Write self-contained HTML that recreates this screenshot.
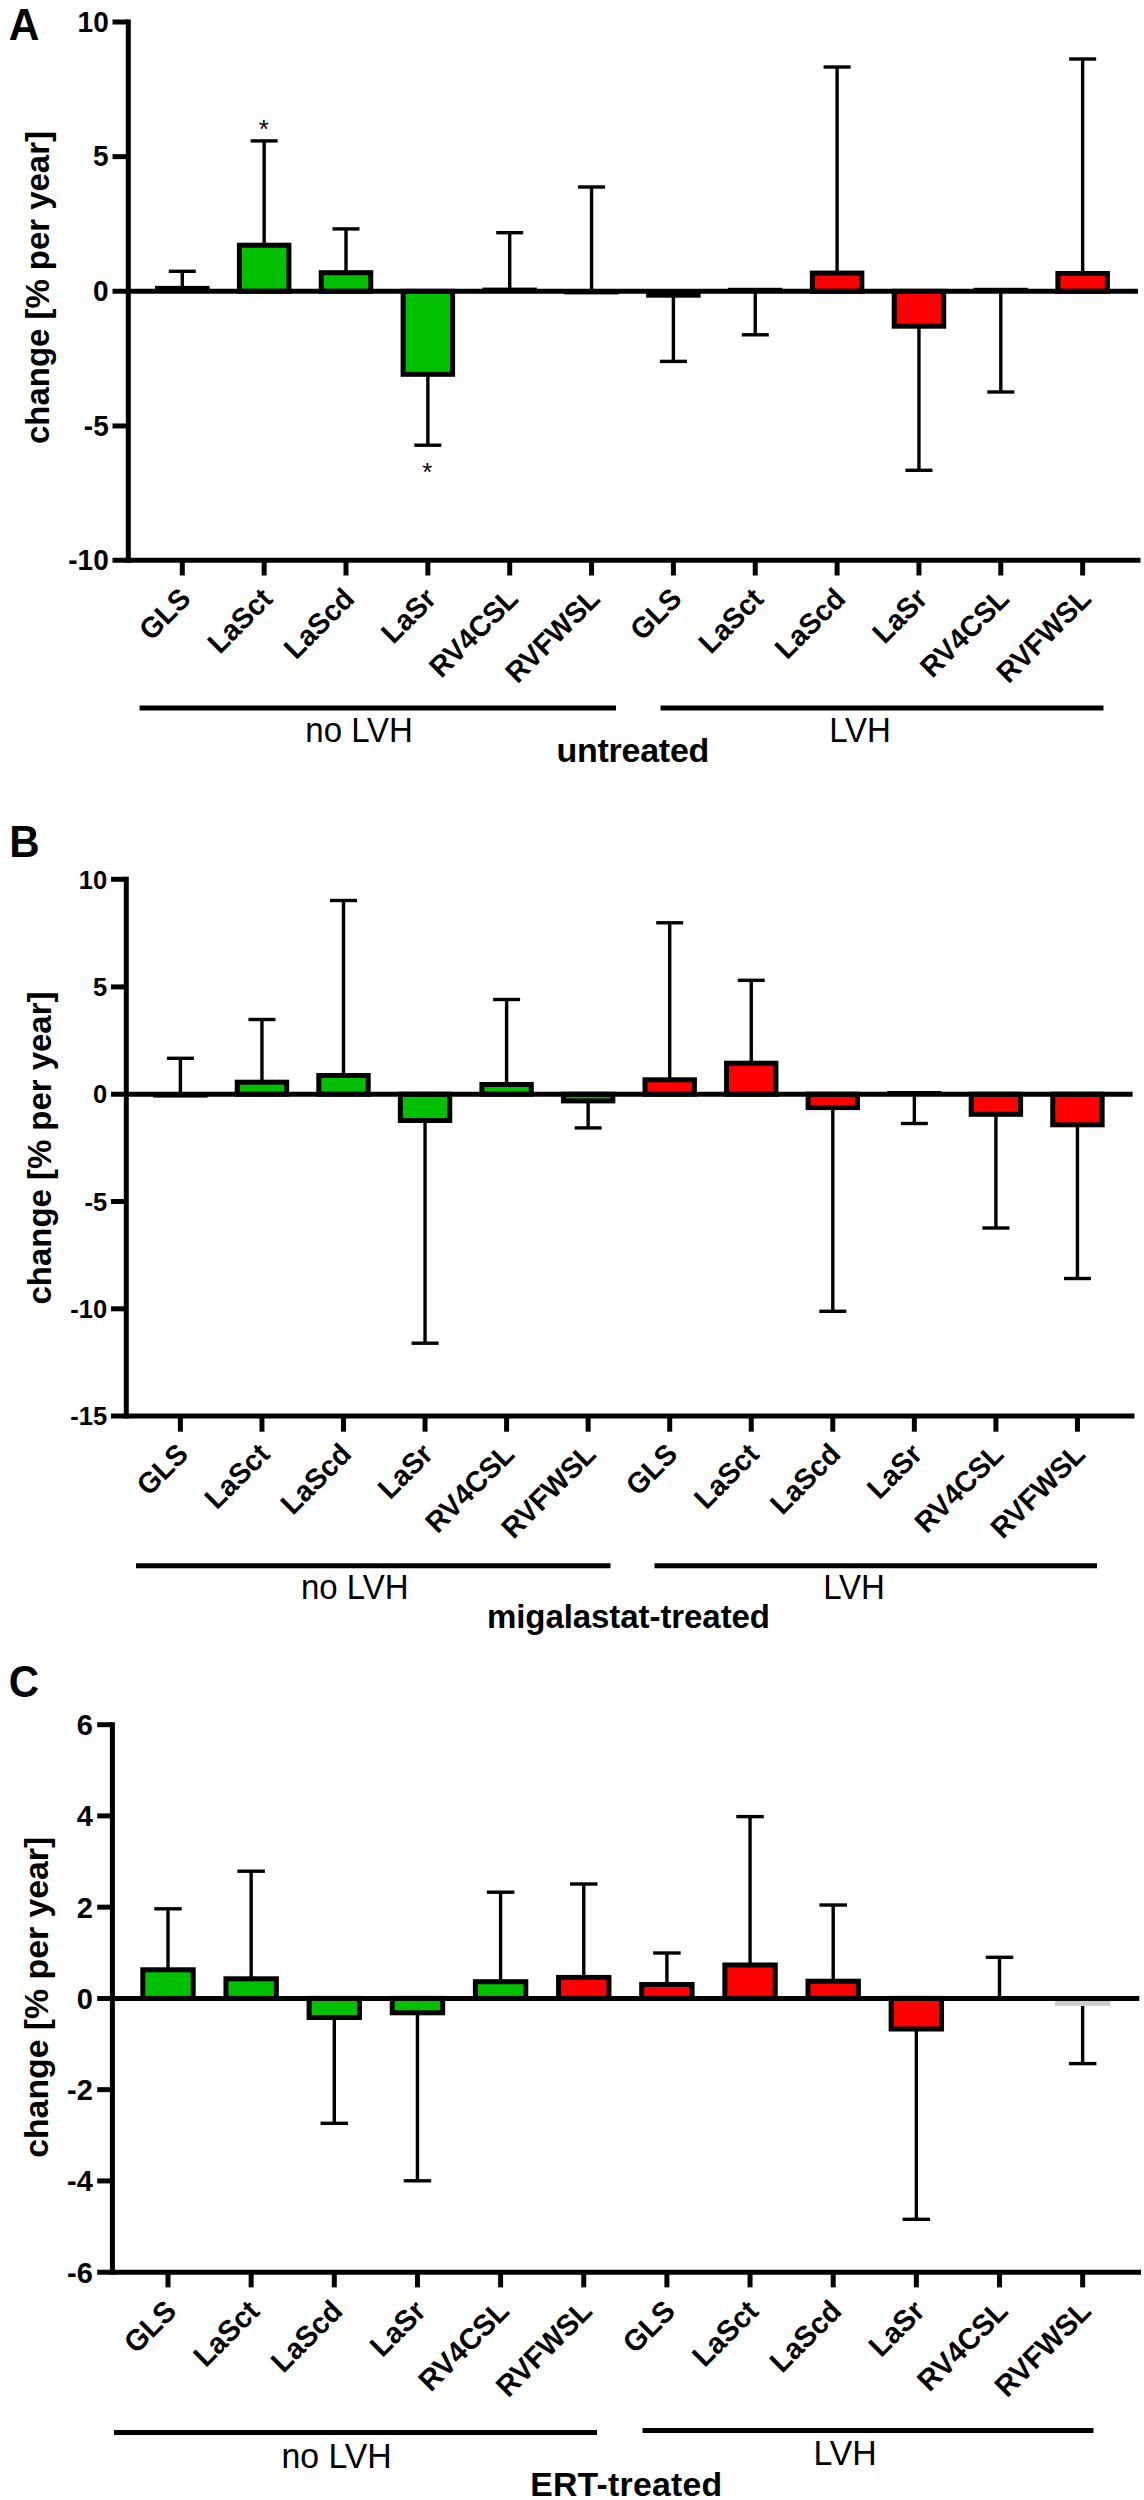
<!DOCTYPE html>
<html lang="en"><head><meta charset="utf-8"><title>Figure</title>
<style>html,body{margin:0;padding:0;background:#fff;}svg{display:block;}text{font-family:"Liberation Sans", sans-serif;fill:#000;}</style>
</head><body>
<svg width="1144" height="2500" viewBox="0 0 1144 2500">
<rect width="1144" height="2500" fill="#fff"/>
<g>
<line x1="128.3" y1="19.5" x2="128.3" y2="562.8" stroke="#000" stroke-width="5"/>
<line x1="112.5" y1="22" x2="128.3" y2="22" stroke="#000" stroke-width="5"/>
<text transform="translate(108.7 31.7) scale(1 1.04)" font-size="28" font-weight="bold" text-anchor="end">10</text>
<line x1="112.5" y1="156.65" x2="128.3" y2="156.65" stroke="#000" stroke-width="5"/>
<text transform="translate(108.7 166.35) scale(1 1.04)" font-size="28" font-weight="bold" text-anchor="end">5</text>
<text transform="translate(108.7 301) scale(1 1.04)" font-size="28" font-weight="bold" text-anchor="end">0</text>
<line x1="112.5" y1="425.95" x2="128.3" y2="425.95" stroke="#000" stroke-width="5"/>
<text transform="translate(108.7 435.65) scale(1 1.04)" font-size="28" font-weight="bold" text-anchor="end">-5</text>
<text transform="translate(108.7 570) scale(1 1.04)" font-size="28" font-weight="bold" text-anchor="end">-10</text>
<line x1="182.3" y1="291.3" x2="182.3" y2="271.3" stroke="#000" stroke-width="3.4"/>
<line x1="168.8" y1="271.3" x2="195.8" y2="271.3" stroke="#000" stroke-width="3.4"/>
<rect x="155.05" y="285.9" width="54.5" height="5.4" fill="#000"/>
<line x1="264.15" y1="245.2" x2="264.15" y2="140.9" stroke="#000" stroke-width="3.4"/>
<line x1="250.65" y1="140.9" x2="277.65" y2="140.9" stroke="#000" stroke-width="3.4"/>
<rect x="239.4" y="245.2" width="49.5" height="46.1" fill="#00C000" stroke="#000" stroke-width="5"/>
<line x1="346" y1="272.7" x2="346" y2="228.9" stroke="#000" stroke-width="3.4"/>
<line x1="332.5" y1="228.9" x2="359.5" y2="228.9" stroke="#000" stroke-width="3.4"/>
<rect x="321.25" y="272.7" width="49.5" height="18.6" fill="#00C000" stroke="#000" stroke-width="5"/>
<line x1="427.85" y1="374.3" x2="427.85" y2="445.2" stroke="#000" stroke-width="3.4"/>
<line x1="414.35" y1="445.2" x2="441.35" y2="445.2" stroke="#000" stroke-width="3.4"/>
<rect x="403.1" y="291.3" width="49.5" height="83" fill="#00C000" stroke="#000" stroke-width="5"/>
<line x1="509.7" y1="291.3" x2="509.7" y2="232.7" stroke="#000" stroke-width="3.4"/>
<line x1="496.2" y1="232.7" x2="523.2" y2="232.7" stroke="#000" stroke-width="3.4"/>
<rect x="482.45" y="287.6" width="54.5" height="3.7" fill="#000"/>
<line x1="591.55" y1="291.3" x2="591.55" y2="187" stroke="#000" stroke-width="3.4"/>
<line x1="578.05" y1="187" x2="605.05" y2="187" stroke="#000" stroke-width="3.4"/>
<rect x="564.3" y="291.3" width="54.5" height="3.1" fill="#000"/>
<line x1="673.4" y1="291.3" x2="673.4" y2="361.4" stroke="#000" stroke-width="3.4"/>
<line x1="659.9" y1="361.4" x2="686.9" y2="361.4" stroke="#000" stroke-width="3.4"/>
<rect x="646.15" y="291.3" width="54.5" height="6.4" fill="#000"/>
<line x1="755.25" y1="291.3" x2="755.25" y2="334.8" stroke="#000" stroke-width="3.4"/>
<line x1="741.75" y1="334.8" x2="768.75" y2="334.8" stroke="#000" stroke-width="3.4"/>
<rect x="728" y="287.8" width="54.5" height="3.5" fill="#000"/>
<line x1="837.1" y1="273.1" x2="837.1" y2="67" stroke="#000" stroke-width="3.4"/>
<line x1="823.6" y1="67" x2="850.6" y2="67" stroke="#000" stroke-width="3.4"/>
<rect x="812.35" y="273.1" width="49.5" height="18.2" fill="#FF0000" stroke="#000" stroke-width="5"/>
<line x1="918.95" y1="326.2" x2="918.95" y2="470.3" stroke="#000" stroke-width="3.4"/>
<line x1="905.45" y1="470.3" x2="932.45" y2="470.3" stroke="#000" stroke-width="3.4"/>
<rect x="894.2" y="291.3" width="49.5" height="34.9" fill="#FF0000" stroke="#000" stroke-width="5"/>
<line x1="1000.8" y1="291.3" x2="1000.8" y2="392" stroke="#000" stroke-width="3.4"/>
<line x1="987.3" y1="392" x2="1014.3" y2="392" stroke="#000" stroke-width="3.4"/>
<rect x="973.55" y="287.8" width="54.5" height="3.5" fill="#000"/>
<line x1="1082.65" y1="273.5" x2="1082.65" y2="59" stroke="#000" stroke-width="3.4"/>
<line x1="1069.15" y1="59" x2="1096.15" y2="59" stroke="#000" stroke-width="3.4"/>
<rect x="1057.9" y="273.5" width="49.5" height="17.8" fill="#FF0000" stroke="#000" stroke-width="5"/>
<line x1="112.5" y1="291.3" x2="1138" y2="291.3" stroke="#000" stroke-width="5"/>
<line x1="112.5" y1="560.3" x2="1140.5" y2="560.3" stroke="#000" stroke-width="5"/>
<line x1="182.3" y1="560.3" x2="182.3" y2="575.5" stroke="#000" stroke-width="5"/>
<text transform="translate(192.3 600.5) rotate(-45) scale(1 1.03)" font-size="28.3" font-weight="bold" text-anchor="end">GLS</text>
<line x1="264.15" y1="560.3" x2="264.15" y2="575.5" stroke="#000" stroke-width="5"/>
<text transform="translate(274.15 600.5) rotate(-45) scale(1 1.03)" font-size="28.3" font-weight="bold" text-anchor="end">LaSct</text>
<line x1="346" y1="560.3" x2="346" y2="575.5" stroke="#000" stroke-width="5"/>
<text transform="translate(356 600.5) rotate(-45) scale(1 1.03)" font-size="28.3" font-weight="bold" text-anchor="end">LaScd</text>
<line x1="427.85" y1="560.3" x2="427.85" y2="575.5" stroke="#000" stroke-width="5"/>
<text transform="translate(437.85 600.5) rotate(-45) scale(1 1.03)" font-size="28.3" font-weight="bold" text-anchor="end">LaSr</text>
<line x1="509.7" y1="560.3" x2="509.7" y2="575.5" stroke="#000" stroke-width="5"/>
<text transform="translate(519.7 600.5) rotate(-45) scale(1 1.03)" font-size="28.3" font-weight="bold" text-anchor="end">RV4CSL</text>
<line x1="591.55" y1="560.3" x2="591.55" y2="575.5" stroke="#000" stroke-width="5"/>
<text transform="translate(601.55 600.5) rotate(-45) scale(1 1.03)" font-size="28.3" font-weight="bold" text-anchor="end">RVFWSL</text>
<line x1="673.4" y1="560.3" x2="673.4" y2="575.5" stroke="#000" stroke-width="5"/>
<text transform="translate(683.4 600.5) rotate(-45) scale(1 1.03)" font-size="28.3" font-weight="bold" text-anchor="end">GLS</text>
<line x1="755.25" y1="560.3" x2="755.25" y2="575.5" stroke="#000" stroke-width="5"/>
<text transform="translate(765.25 600.5) rotate(-45) scale(1 1.03)" font-size="28.3" font-weight="bold" text-anchor="end">LaSct</text>
<line x1="837.1" y1="560.3" x2="837.1" y2="575.5" stroke="#000" stroke-width="5"/>
<text transform="translate(847.1 600.5) rotate(-45) scale(1 1.03)" font-size="28.3" font-weight="bold" text-anchor="end">LaScd</text>
<line x1="918.95" y1="560.3" x2="918.95" y2="575.5" stroke="#000" stroke-width="5"/>
<text transform="translate(928.95 600.5) rotate(-45) scale(1 1.03)" font-size="28.3" font-weight="bold" text-anchor="end">LaSr</text>
<line x1="1000.8" y1="560.3" x2="1000.8" y2="575.5" stroke="#000" stroke-width="5"/>
<text transform="translate(1010.8 600.5) rotate(-45) scale(1 1.03)" font-size="28.3" font-weight="bold" text-anchor="end">RV4CSL</text>
<line x1="1082.65" y1="560.3" x2="1082.65" y2="575.5" stroke="#000" stroke-width="5"/>
<text transform="translate(1092.65 600.5) rotate(-45) scale(1 1.03)" font-size="28.3" font-weight="bold" text-anchor="end">RVFWSL</text>
<line x1="139.6" y1="708" x2="616" y2="708" stroke="#000" stroke-width="5"/>
<line x1="660.5" y1="708" x2="1103.5" y2="708" stroke="#000" stroke-width="5"/>
<text transform="translate(359.1 742) scale(1 1.04)" font-size="33" text-anchor="middle">no LVH</text>
<text transform="translate(860 742) scale(1 1.04)" font-size="33" text-anchor="middle">LVH</text>
<text transform="translate(556.4 762) scale(1 1.0)" font-size="34" font-weight="bold" textLength="153" lengthAdjust="spacing">untreated</text>
<text transform="translate(48.9 287.5) rotate(-90) scale(1 1.0)" font-size="33" font-weight="bold" text-anchor="middle" textLength="313" lengthAdjust="spacing">change [% per year]</text>
<text transform="translate(8.8 40.3) scale(1 1.04)" font-size="42.5" font-weight="bold">A</text>
<text x="263.8" y="137.9" font-size="26" text-anchor="middle">*</text>
<text x="427.2" y="481.3" font-size="26" text-anchor="middle">*</text>
</g>
<g>
<line x1="126.3" y1="876.8" x2="126.3" y2="1418.6" stroke="#000" stroke-width="5"/>
<line x1="111" y1="879.3" x2="126.3" y2="879.3" stroke="#000" stroke-width="5"/>
<text transform="translate(107.2 888.5) scale(1 1.04)" font-size="25.5" font-weight="bold" text-anchor="end">10</text>
<line x1="111" y1="986.9" x2="126.3" y2="986.9" stroke="#000" stroke-width="5"/>
<text transform="translate(107.2 996.1) scale(1 1.04)" font-size="25.5" font-weight="bold" text-anchor="end">5</text>
<text transform="translate(107.2 1103.4) scale(1 1.04)" font-size="25.5" font-weight="bold" text-anchor="end">0</text>
<line x1="111" y1="1201.5" x2="126.3" y2="1201.5" stroke="#000" stroke-width="5"/>
<text transform="translate(107.2 1210.7) scale(1 1.04)" font-size="25.5" font-weight="bold" text-anchor="end">-5</text>
<line x1="111" y1="1308.8" x2="126.3" y2="1308.8" stroke="#000" stroke-width="5"/>
<text transform="translate(107.2 1318) scale(1 1.04)" font-size="25.5" font-weight="bold" text-anchor="end">-10</text>
<text transform="translate(107.2 1425.1) scale(1 1.04)" font-size="25.5" font-weight="bold" text-anchor="end">-15</text>
<line x1="180.4" y1="1094.2" x2="180.4" y2="1058.3" stroke="#000" stroke-width="3.4"/>
<line x1="166.9" y1="1058.3" x2="193.9" y2="1058.3" stroke="#000" stroke-width="3.4"/>
<rect x="153.2" y="1094.2" width="54.4" height="3.4" fill="#000"/>
<line x1="261.95" y1="1082.2" x2="261.95" y2="1019.5" stroke="#000" stroke-width="3.4"/>
<line x1="248.45" y1="1019.5" x2="275.45" y2="1019.5" stroke="#000" stroke-width="3.4"/>
<rect x="237.25" y="1082.2" width="49.4" height="12" fill="#00C000" stroke="#000" stroke-width="5"/>
<line x1="343.5" y1="1075.5" x2="343.5" y2="900.5" stroke="#000" stroke-width="3.4"/>
<line x1="330" y1="900.5" x2="357" y2="900.5" stroke="#000" stroke-width="3.4"/>
<rect x="318.8" y="1075.5" width="49.4" height="18.7" fill="#00C000" stroke="#000" stroke-width="5"/>
<line x1="425.05" y1="1120.5" x2="425.05" y2="1343.2" stroke="#000" stroke-width="3.4"/>
<line x1="411.55" y1="1343.2" x2="438.55" y2="1343.2" stroke="#000" stroke-width="3.4"/>
<rect x="400.35" y="1094.2" width="49.4" height="26.3" fill="#00C000" stroke="#000" stroke-width="5"/>
<line x1="506.6" y1="1084.5" x2="506.6" y2="999.5" stroke="#000" stroke-width="3.4"/>
<line x1="493.1" y1="999.5" x2="520.1" y2="999.5" stroke="#000" stroke-width="3.4"/>
<rect x="481.9" y="1084.5" width="49.4" height="9.7" fill="#00C000" stroke="#000" stroke-width="5"/>
<line x1="588.15" y1="1100.9" x2="588.15" y2="1127.9" stroke="#000" stroke-width="3.4"/>
<line x1="574.65" y1="1127.9" x2="601.65" y2="1127.9" stroke="#000" stroke-width="3.4"/>
<rect x="563.45" y="1094.2" width="49.4" height="6.7" fill="#00C000" stroke="#000" stroke-width="5"/>
<line x1="669.7" y1="1079.8" x2="669.7" y2="922.8" stroke="#000" stroke-width="3.4"/>
<line x1="656.2" y1="922.8" x2="683.2" y2="922.8" stroke="#000" stroke-width="3.4"/>
<rect x="645" y="1079.8" width="49.4" height="14.4" fill="#FF0000" stroke="#000" stroke-width="5"/>
<line x1="751.25" y1="1063.2" x2="751.25" y2="980.3" stroke="#000" stroke-width="3.4"/>
<line x1="737.75" y1="980.3" x2="764.75" y2="980.3" stroke="#000" stroke-width="3.4"/>
<rect x="726.55" y="1063.2" width="49.4" height="31" fill="#FF0000" stroke="#000" stroke-width="5"/>
<line x1="832.8" y1="1107.6" x2="832.8" y2="1311.3" stroke="#000" stroke-width="3.4"/>
<line x1="819.3" y1="1311.3" x2="846.3" y2="1311.3" stroke="#000" stroke-width="3.4"/>
<rect x="808.1" y="1094.2" width="49.4" height="13.4" fill="#FF0000" stroke="#000" stroke-width="5"/>
<line x1="914.35" y1="1094.2" x2="914.35" y2="1123.5" stroke="#000" stroke-width="3.4"/>
<line x1="900.85" y1="1123.5" x2="927.85" y2="1123.5" stroke="#000" stroke-width="3.4"/>
<rect x="887.15" y="1091" width="54.4" height="3.2" fill="#000"/>
<line x1="995.9" y1="1114.3" x2="995.9" y2="1228" stroke="#000" stroke-width="3.4"/>
<line x1="982.4" y1="1228" x2="1009.4" y2="1228" stroke="#000" stroke-width="3.4"/>
<rect x="971.2" y="1094.2" width="49.4" height="20.1" fill="#FF0000" stroke="#000" stroke-width="5"/>
<line x1="1077.45" y1="1124.8" x2="1077.45" y2="1278.5" stroke="#000" stroke-width="3.4"/>
<line x1="1063.95" y1="1278.5" x2="1090.95" y2="1278.5" stroke="#000" stroke-width="3.4"/>
<rect x="1052.75" y="1094.2" width="49.4" height="30.6" fill="#FF0000" stroke="#000" stroke-width="5"/>
<line x1="111" y1="1094.2" x2="1132.6" y2="1094.2" stroke="#000" stroke-width="5"/>
<line x1="111" y1="1416.1" x2="1134.5" y2="1416.1" stroke="#000" stroke-width="5"/>
<line x1="180.4" y1="1416.1" x2="180.4" y2="1431.7" stroke="#000" stroke-width="5"/>
<text transform="translate(189.8 1455.9) rotate(-45) scale(1 1.03)" font-size="28.3" font-weight="bold" text-anchor="end">GLS</text>
<line x1="261.95" y1="1416.1" x2="261.95" y2="1431.7" stroke="#000" stroke-width="5"/>
<text transform="translate(271.35 1455.9) rotate(-45) scale(1 1.03)" font-size="28.3" font-weight="bold" text-anchor="end">LaSct</text>
<line x1="343.5" y1="1416.1" x2="343.5" y2="1431.7" stroke="#000" stroke-width="5"/>
<text transform="translate(352.9 1455.9) rotate(-45) scale(1 1.03)" font-size="28.3" font-weight="bold" text-anchor="end">LaScd</text>
<line x1="425.05" y1="1416.1" x2="425.05" y2="1431.7" stroke="#000" stroke-width="5"/>
<text transform="translate(434.45 1455.9) rotate(-45) scale(1 1.03)" font-size="28.3" font-weight="bold" text-anchor="end">LaSr</text>
<line x1="506.6" y1="1416.1" x2="506.6" y2="1431.7" stroke="#000" stroke-width="5"/>
<text transform="translate(516 1455.9) rotate(-45) scale(1 1.03)" font-size="28.3" font-weight="bold" text-anchor="end">RV4CSL</text>
<line x1="588.15" y1="1416.1" x2="588.15" y2="1431.7" stroke="#000" stroke-width="5"/>
<text transform="translate(597.55 1455.9) rotate(-45) scale(1 1.03)" font-size="28.3" font-weight="bold" text-anchor="end">RVFWSL</text>
<line x1="669.7" y1="1416.1" x2="669.7" y2="1431.7" stroke="#000" stroke-width="5"/>
<text transform="translate(679.1 1455.9) rotate(-45) scale(1 1.03)" font-size="28.3" font-weight="bold" text-anchor="end">GLS</text>
<line x1="751.25" y1="1416.1" x2="751.25" y2="1431.7" stroke="#000" stroke-width="5"/>
<text transform="translate(760.65 1455.9) rotate(-45) scale(1 1.03)" font-size="28.3" font-weight="bold" text-anchor="end">LaSct</text>
<line x1="832.8" y1="1416.1" x2="832.8" y2="1431.7" stroke="#000" stroke-width="5"/>
<text transform="translate(842.2 1455.9) rotate(-45) scale(1 1.03)" font-size="28.3" font-weight="bold" text-anchor="end">LaScd</text>
<line x1="914.35" y1="1416.1" x2="914.35" y2="1431.7" stroke="#000" stroke-width="5"/>
<text transform="translate(923.75 1455.9) rotate(-45) scale(1 1.03)" font-size="28.3" font-weight="bold" text-anchor="end">LaSr</text>
<line x1="995.9" y1="1416.1" x2="995.9" y2="1431.7" stroke="#000" stroke-width="5"/>
<text transform="translate(1005.3 1455.9) rotate(-45) scale(1 1.03)" font-size="28.3" font-weight="bold" text-anchor="end">RV4CSL</text>
<line x1="1077.45" y1="1416.1" x2="1077.45" y2="1431.7" stroke="#000" stroke-width="5"/>
<text transform="translate(1086.85 1455.9) rotate(-45) scale(1 1.03)" font-size="28.3" font-weight="bold" text-anchor="end">RVFWSL</text>
<line x1="136" y1="1565.7" x2="610.5" y2="1565.7" stroke="#000" stroke-width="5"/>
<line x1="654.5" y1="1565.7" x2="1097" y2="1565.7" stroke="#000" stroke-width="5"/>
<text transform="translate(354.8 1599.3) scale(1 1.04)" font-size="33" text-anchor="middle">no LVH</text>
<text transform="translate(854 1599.3) scale(1 1.04)" font-size="33" text-anchor="middle">LVH</text>
<text transform="translate(487 1627.5) scale(1 1.0)" font-size="33" font-weight="bold" textLength="283" lengthAdjust="spacing">migalastat-treated</text>
<text transform="translate(50.9 1148) rotate(-90) scale(1 1.0)" font-size="33" font-weight="bold" text-anchor="middle" textLength="313" lengthAdjust="spacing">change [% per year]</text>
<text transform="translate(9.2 856.9) scale(1 1.04)" font-size="42" font-weight="bold">B</text>
</g>
<g>
<line x1="112.4" y1="1722.2" x2="112.4" y2="2274.7" stroke="#000" stroke-width="5"/>
<line x1="97.2" y1="1724.7" x2="112.4" y2="1724.7" stroke="#000" stroke-width="5"/>
<text transform="translate(92.8 1735.1) scale(1 1.04)" font-size="29" font-weight="bold" text-anchor="end">6</text>
<line x1="97.2" y1="1815.88" x2="112.4" y2="1815.88" stroke="#000" stroke-width="5"/>
<text transform="translate(92.8 1826.28) scale(1 1.04)" font-size="29" font-weight="bold" text-anchor="end">4</text>
<line x1="97.2" y1="1907.14" x2="112.4" y2="1907.14" stroke="#000" stroke-width="5"/>
<text transform="translate(92.8 1917.54) scale(1 1.04)" font-size="29" font-weight="bold" text-anchor="end">2</text>
<text transform="translate(92.8 2008.8) scale(1 1.04)" font-size="29" font-weight="bold" text-anchor="end">0</text>
<line x1="97.2" y1="2089.66" x2="112.4" y2="2089.66" stroke="#000" stroke-width="5"/>
<text transform="translate(92.8 2100.06) scale(1 1.04)" font-size="29" font-weight="bold" text-anchor="end">-2</text>
<line x1="97.2" y1="2180.92" x2="112.4" y2="2180.92" stroke="#000" stroke-width="5"/>
<text transform="translate(92.8 2191.32) scale(1 1.04)" font-size="29" font-weight="bold" text-anchor="end">-4</text>
<text transform="translate(92.8 2282.6) scale(1 1.04)" font-size="29" font-weight="bold" text-anchor="end">-6</text>
<line x1="168" y1="1969.8" x2="168" y2="1908.8" stroke="#000" stroke-width="3.4"/>
<line x1="154.25" y1="1908.8" x2="181.75" y2="1908.8" stroke="#000" stroke-width="3.4"/>
<rect x="142.8" y="1969.8" width="50.4" height="28.6" fill="#00C000" stroke="#000" stroke-width="5"/>
<line x1="251.15" y1="1978.8" x2="251.15" y2="1871.2" stroke="#000" stroke-width="3.4"/>
<line x1="237.4" y1="1871.2" x2="264.9" y2="1871.2" stroke="#000" stroke-width="3.4"/>
<rect x="225.95" y="1978.8" width="50.4" height="19.6" fill="#00C000" stroke="#000" stroke-width="5"/>
<line x1="334.3" y1="2017.5" x2="334.3" y2="2123.3" stroke="#000" stroke-width="3.4"/>
<line x1="320.55" y1="2123.3" x2="348.05" y2="2123.3" stroke="#000" stroke-width="3.4"/>
<rect x="309.1" y="1998.4" width="50.4" height="19.1" fill="#00C000" stroke="#000" stroke-width="5"/>
<line x1="417.45" y1="2012.8" x2="417.45" y2="2180.8" stroke="#000" stroke-width="3.4"/>
<line x1="403.7" y1="2180.8" x2="431.2" y2="2180.8" stroke="#000" stroke-width="3.4"/>
<rect x="392.25" y="1998.4" width="50.4" height="14.4" fill="#00C000" stroke="#000" stroke-width="5"/>
<line x1="500.6" y1="1981.7" x2="500.6" y2="1892.2" stroke="#000" stroke-width="3.4"/>
<line x1="486.85" y1="1892.2" x2="514.35" y2="1892.2" stroke="#000" stroke-width="3.4"/>
<rect x="475.4" y="1981.7" width="50.4" height="16.7" fill="#00C000" stroke="#000" stroke-width="5"/>
<line x1="583.75" y1="1977.4" x2="583.75" y2="1884" stroke="#000" stroke-width="3.4"/>
<line x1="570" y1="1884" x2="597.5" y2="1884" stroke="#000" stroke-width="3.4"/>
<rect x="558.55" y="1977.4" width="50.4" height="21" fill="#FF0000" stroke="#000" stroke-width="5"/>
<line x1="666.9" y1="1984.5" x2="666.9" y2="1953" stroke="#000" stroke-width="3.4"/>
<line x1="653.15" y1="1953" x2="680.65" y2="1953" stroke="#000" stroke-width="3.4"/>
<rect x="641.7" y="1984.5" width="50.4" height="13.9" fill="#FF0000" stroke="#000" stroke-width="5"/>
<line x1="750.05" y1="1965" x2="750.05" y2="1816.6" stroke="#000" stroke-width="3.4"/>
<line x1="736.3" y1="1816.6" x2="763.8" y2="1816.6" stroke="#000" stroke-width="3.4"/>
<rect x="724.85" y="1965" width="50.4" height="33.4" fill="#FF0000" stroke="#000" stroke-width="5"/>
<line x1="833.2" y1="1981.2" x2="833.2" y2="1905" stroke="#000" stroke-width="3.4"/>
<line x1="819.45" y1="1905" x2="846.95" y2="1905" stroke="#000" stroke-width="3.4"/>
<rect x="808" y="1981.2" width="50.4" height="17.2" fill="#FF0000" stroke="#000" stroke-width="5"/>
<line x1="916.35" y1="2029" x2="916.35" y2="2219.3" stroke="#000" stroke-width="3.4"/>
<line x1="902.6" y1="2219.3" x2="930.1" y2="2219.3" stroke="#000" stroke-width="3.4"/>
<rect x="891.15" y="1998.4" width="50.4" height="30.6" fill="#FF0000" stroke="#000" stroke-width="5"/>
<line x1="999.5" y1="1998.4" x2="999.5" y2="1957.3" stroke="#000" stroke-width="3.4"/>
<line x1="985.75" y1="1957.3" x2="1013.25" y2="1957.3" stroke="#000" stroke-width="3.4"/>
<line x1="1082.65" y1="2005.9" x2="1082.65" y2="2063.6" stroke="#000" stroke-width="3.4"/>
<line x1="1068.9" y1="2063.6" x2="1096.4" y2="2063.6" stroke="#000" stroke-width="3.4"/>
<rect x="1054.95" y="1998.4" width="55.4" height="7.5" fill="#CCCCCC"/>
<line x1="97.2" y1="1998.4" x2="1139.3" y2="1998.4" stroke="#000" stroke-width="5"/>
<line x1="97.2" y1="2272.2" x2="1141" y2="2272.2" stroke="#000" stroke-width="5"/>
<line x1="168" y1="2272.2" x2="168" y2="2287.4" stroke="#000" stroke-width="5"/>
<text transform="translate(178 2312.9) rotate(-45) scale(1 1.03)" font-size="28.8" font-weight="bold" text-anchor="end">GLS</text>
<line x1="251.15" y1="2272.2" x2="251.15" y2="2287.4" stroke="#000" stroke-width="5"/>
<text transform="translate(261.15 2312.9) rotate(-45) scale(1 1.03)" font-size="28.8" font-weight="bold" text-anchor="end">LaSct</text>
<line x1="334.3" y1="2272.2" x2="334.3" y2="2287.4" stroke="#000" stroke-width="5"/>
<text transform="translate(344.3 2312.9) rotate(-45) scale(1 1.03)" font-size="28.8" font-weight="bold" text-anchor="end">LaScd</text>
<line x1="417.45" y1="2272.2" x2="417.45" y2="2287.4" stroke="#000" stroke-width="5"/>
<text transform="translate(427.45 2312.9) rotate(-45) scale(1 1.03)" font-size="28.8" font-weight="bold" text-anchor="end">LaSr</text>
<line x1="500.6" y1="2272.2" x2="500.6" y2="2287.4" stroke="#000" stroke-width="5"/>
<text transform="translate(510.6 2312.9) rotate(-45) scale(1 1.03)" font-size="28.8" font-weight="bold" text-anchor="end">RV4CSL</text>
<line x1="583.75" y1="2272.2" x2="583.75" y2="2287.4" stroke="#000" stroke-width="5"/>
<text transform="translate(593.75 2312.9) rotate(-45) scale(1 1.03)" font-size="28.8" font-weight="bold" text-anchor="end">RVFWSL</text>
<line x1="666.9" y1="2272.2" x2="666.9" y2="2287.4" stroke="#000" stroke-width="5"/>
<text transform="translate(676.9 2312.9) rotate(-45) scale(1 1.03)" font-size="28.8" font-weight="bold" text-anchor="end">GLS</text>
<line x1="750.05" y1="2272.2" x2="750.05" y2="2287.4" stroke="#000" stroke-width="5"/>
<text transform="translate(760.05 2312.9) rotate(-45) scale(1 1.03)" font-size="28.8" font-weight="bold" text-anchor="end">LaSct</text>
<line x1="833.2" y1="2272.2" x2="833.2" y2="2287.4" stroke="#000" stroke-width="5"/>
<text transform="translate(843.2 2312.9) rotate(-45) scale(1 1.03)" font-size="28.8" font-weight="bold" text-anchor="end">LaScd</text>
<line x1="916.35" y1="2272.2" x2="916.35" y2="2287.4" stroke="#000" stroke-width="5"/>
<text transform="translate(926.35 2312.9) rotate(-45) scale(1 1.03)" font-size="28.8" font-weight="bold" text-anchor="end">LaSr</text>
<line x1="999.5" y1="2272.2" x2="999.5" y2="2287.4" stroke="#000" stroke-width="5"/>
<text transform="translate(1009.5 2312.9) rotate(-45) scale(1 1.03)" font-size="28.8" font-weight="bold" text-anchor="end">RV4CSL</text>
<line x1="1082.65" y1="2272.2" x2="1082.65" y2="2287.4" stroke="#000" stroke-width="5"/>
<text transform="translate(1092.65 2312.9) rotate(-45) scale(1 1.03)" font-size="28.8" font-weight="bold" text-anchor="end">RVFWSL</text>
<line x1="114" y1="2432.5" x2="597" y2="2432.5" stroke="#000" stroke-width="5"/>
<line x1="642.5" y1="2430.5" x2="1093.5" y2="2430.5" stroke="#000" stroke-width="5"/>
<text transform="translate(336.5 2467.5) scale(1 1.04)" font-size="33.8" text-anchor="middle">no LVH</text>
<text transform="translate(845 2465) scale(1 1.04)" font-size="33.8" text-anchor="middle">LVH</text>
<text transform="translate(530.2 2495.7) scale(1 1.0)" font-size="33.8" font-weight="bold" textLength="192" lengthAdjust="spacing">ERT-treated</text>
<text transform="translate(48 1997.3) rotate(-90) scale(1 1.0)" font-size="33.8" font-weight="bold" text-anchor="middle" textLength="321" lengthAdjust="spacing">change [% per year]</text>
<text transform="translate(8.8 1696.8) scale(1 1.04)" font-size="42" font-weight="bold">C</text>
</g>
</svg></body></html>
